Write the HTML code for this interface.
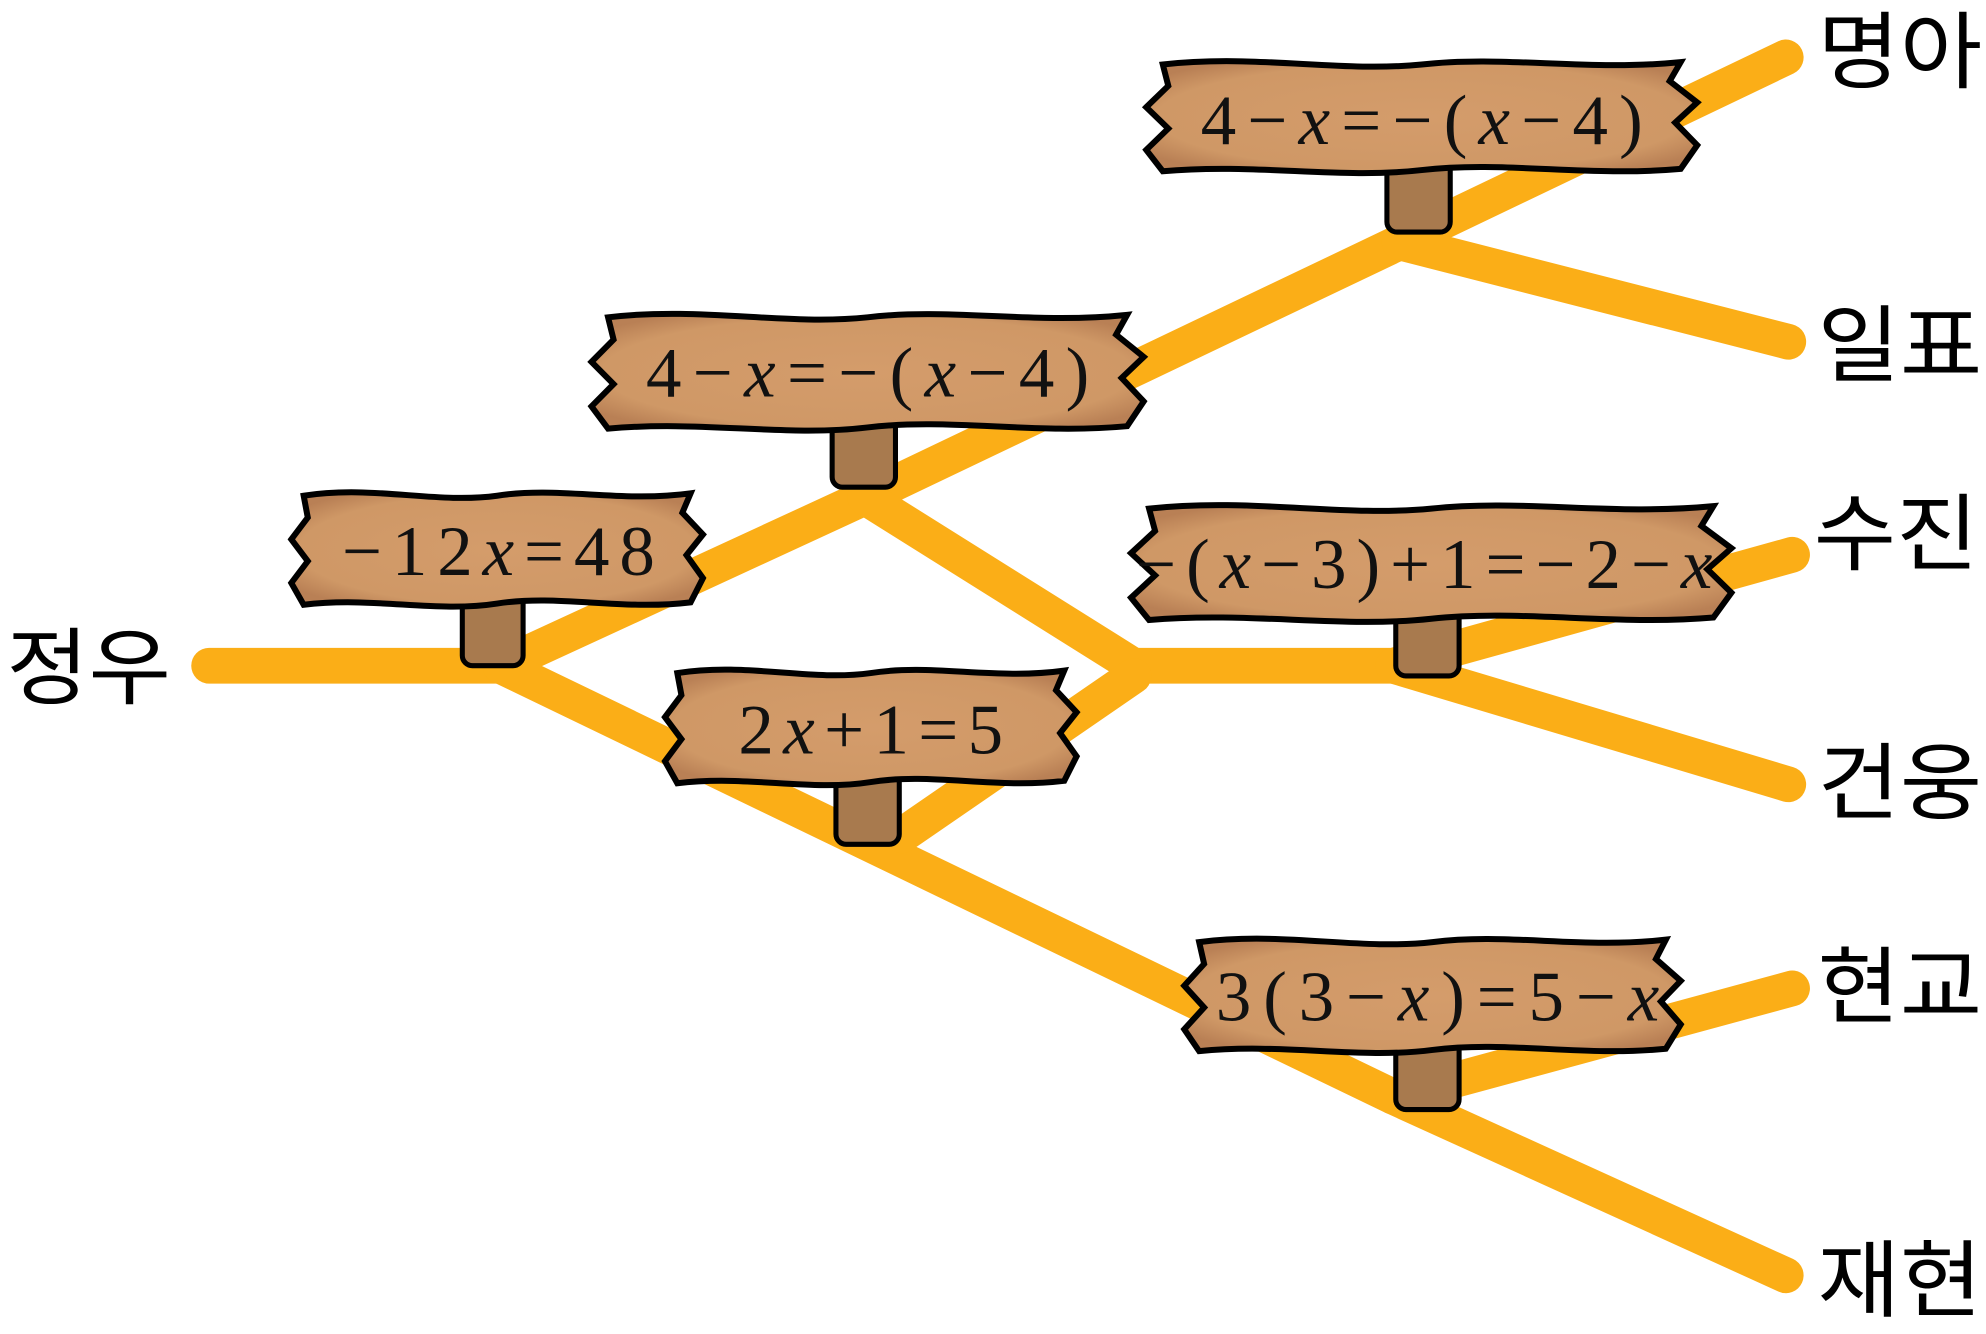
<!DOCTYPE html>
<html><head><meta charset="utf-8"><style>
html,body{margin:0;padding:0;background:#fff;}
svg{display:block;}
.n{font-family:"Liberation Sans","Noto Sans CJK KR",sans-serif;font-size:66px;fill:#000;}
.m{font-family:"Liberation Serif","DejaVu Serif",serif;font-size:56px;fill:#111;}
.i{font-style:italic;}
</style></head><body>
<svg width="1986" height="1334" viewBox="0 0 1568 1046" preserveAspectRatio="none" xmlns="http://www.w3.org/2000/svg">
<defs>
<radialGradient id="g" cx="50%" cy="50%" r="60%">
<stop offset="0%" stop-color="#D49C6B"/><stop offset="80%" stop-color="#CF9866"/><stop offset="100%" stop-color="#B98055"/>
</radialGradient>
<path id="s" vector-effect="non-scaling-stroke" d="M3,6 C20,-3 35,13 50,6 C65,-2 80,12 97,4 L95,20 L100,38 L96,55 L100,74 L97,94 C80,101 65,87 50,95 C35,103 20,89 3,96 L0,78 L4,60 L0,42 L4,24 Z"/>
</defs>
<g fill="none" stroke="#FBAE17" stroke-width="28" stroke-linecap="round" stroke-linejoin="round">
<polyline points="165,522 395,522"/>
<polyline points="395,522 683,390 1105,190 1410,45"/>
<polyline points="1105,190 1412,268"/>
<polyline points="683,390 895,522 1100,522 1415,435"/>
<polyline points="1100,522 1412,615"/>
<polyline points="395,522 1100,860 1410,1000"/>
<polyline points="1100,860 1415,775"/>
<polyline points="712,655 895,530"/>
</g>
<g fill="#A87A4E" stroke="#000" stroke-width="4">
<rect x="1095" y="118" width="50" height="64" rx="8"/>
<rect x="657" y="320" width="50" height="62" rx="8"/>
<rect x="365" y="460" width="48" height="62" rx="8"/>
<rect x="660" y="600" width="50" height="62" rx="8"/>
<rect x="1102" y="468" width="50" height="62" rx="8"/>
<rect x="1102" y="808" width="50" height="62" rx="8"/>
</g>
<g fill="url(#g)" stroke="#000" stroke-width="6">
<use href="#s" transform="translate(905,45) scale(4.35,0.93)"/>
<use href="#s" transform="translate(467,243) scale(4.36,0.97)"/>
<use href="#s" transform="translate(230,383) scale(3.25,0.95)"/>
<use href="#s" transform="translate(525,522) scale(3.25,0.96)"/>
<use href="#s" transform="translate(893,393) scale(4.74,0.97)"/>
<use href="#s" transform="translate(935,733) scale(3.92,0.95)"/>
</g>
<g class="m">
<text x="948" y="113" textLength="349" lengthAdjust="spacing">4−<tspan class="i">x</tspan>=−(<tspan class="i">x</tspan>−4)</text>
<text x="510" y="311" textLength="350" lengthAdjust="spacing">4−<tspan class="i">x</tspan>=−(<tspan class="i">x</tspan>−4)</text>
<text x="270" y="451" textLength="247" lengthAdjust="spacing">−12<tspan class="i">x</tspan>=48</text>
<text x="583" y="591" textLength="209" lengthAdjust="spacing">2<tspan class="i">x</tspan>+1=5</text>
<text x="897" y="461" textLength="455" lengthAdjust="spacing">−(<tspan class="i">x</tspan>−3)+1=−2−<tspan class="i">x</tspan></text>
<text x="960" y="800" textLength="350" lengthAdjust="spacing">3(3−<tspan class="i">x</tspan>)=5−<tspan class="i">x</tspan></text>
</g>
<g class="n">
<text x="1435" y="64" textLength="130" lengthAdjust="spacingAndGlyphs">명아</text>
<text x="1435" y="294" textLength="130" lengthAdjust="spacingAndGlyphs">일표</text>
<text x="1432" y="442" textLength="130" lengthAdjust="spacingAndGlyphs">수진</text>
<text x="1435" y="637" textLength="130" lengthAdjust="spacingAndGlyphs">건웅</text>
<text x="1435" y="797" textLength="130" lengthAdjust="spacingAndGlyphs">현교</text>
<text x="1435" y="1027" textLength="130" lengthAdjust="spacingAndGlyphs">재현</text>
<text x="5" y="547" textLength="130" lengthAdjust="spacingAndGlyphs">정우</text>
</g>
</svg>
</body></html>
